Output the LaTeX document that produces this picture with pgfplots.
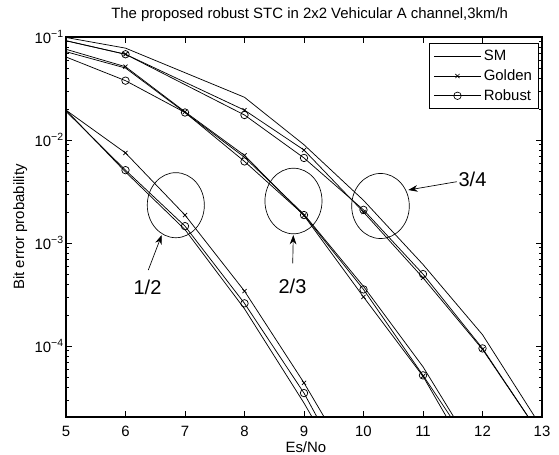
\documentclass[border=0pt]{standalone}
\usepackage{fontspec}
\setmainfont{Liberation Sans}
\usepackage{pgfplots}
\pgfplotsset{compat=1.18}
\usetikzlibrary{arrows.meta}
\newcommand{\fs}{\fontsize{11.2}{13}\selectfont}
\begin{document}
\begin{tikzpicture}
\begin{axis}[
  name=ax,
  width=357pt, height=285pt, scale only axis,
  xmin=5, xmax=13, ymin=2.05e-5, ymax=0.1,
  ymode=log,
  xtick={5,6,7,8,9,10,11,12,13},
  ytick={1e-4,1e-3,1e-2,1e-1},
  yticklabels={10\textsuperscript{−4},10\textsuperscript{−3},10\textsuperscript{−2},10\textsuperscript{−1}},
  minor ytick={3e-5,4e-5,5e-5,6e-5,7e-5,8e-5,9e-5,2e-4,3e-4,4e-4,5e-4,6e-4,7e-4,8e-4,9e-4,2e-3,3e-3,4e-3,5e-3,6e-3,7e-3,8e-3,9e-3,2e-2,3e-2,4e-2,5e-2,6e-2,7e-2,8e-2,9e-2},
  axis line style={line width=1pt},
  tick align=inside,
  major tick length=4.5pt, minor tick length=2.25pt,
  tick style={black, line width=0.5pt},
  /pgf/number format/assume math mode=true,
  ticklabel style={font=\fs},
  xticklabel style={anchor=base, yshift=-14.8pt},
  yticklabel style={inner sep=1.5pt},
  title={The proposed robust STC in 2x2 Vehicular A channel,3km/h},
  title style={at={(axis description cs:0.512,1.0289)}, anchor=base, font=\fs},
  xlabel={Es/No},
  xlabel style={at={(axis description cs:0.504,-0.0921)}, anchor=base, font=\fs},
  ylabel={Bit error probability},
  ylabel style={at={(axis description cs:-0.0882,0.5)}, anchor=base, font=\fs},
  legend style={at={(0.994,0.984)}, anchor=north east, draw=black, line width=0.75pt,
    font=\fs, cells={anchor=west}, inner xsep=3pt, inner ysep=3pt, row sep=1.2pt},
  legend image code/.code={\draw[#1, line width=0.5pt, mark repeat=2, mark phase=2] plot coordinates {(0pt,0pt) (17.5pt,0pt) (35pt,0pt)};},
  every axis plot/.append style={black, line width=0.55pt},
]
% rate 1/2
\addplot[no marks] coordinates {(5,0.0195)(6,4.9e-3)(7,1.35e-3)(8,2.3e-4)(9,2.8e-5)(10,2.8e-6)};
\addlegendentry{SM}
\addplot[mark=x, mark size=2.2pt, mark phase=2] coordinates {(5,0.0195)(6,7.5e-3)(7,1.87e-3)(8,3.42e-4)(9,4.4e-5)(10,4.6e-6)};
\addlegendentry{Golden}
\addplot[mark=o, mark size=2.8pt, mark phase=2] coordinates {(5,0.019)(6,5.1e-3)(7,1.46e-3)(8,2.6e-4)(9,3.5e-5)(10,3.0e-6)};
\addlegendentry{Robust}
% rate 2/3
\addplot[no marks, forget plot] coordinates {(5,0.072)(6,0.050)(7,0.0185)(8,6.8e-3)(9,1.9e-3)(10,3.8e-4)(11,6.3e-5)(12,7.2e-6)};
\addplot[mark=x, mark size=2.2pt, mark phase=2, forget plot] coordinates {(5,0.076)(6,0.0515)(7,0.0188)(8,7.1e-3)(9,1.85e-3)(10,3.0e-4)(11,5.1e-5)(12,5.1e-6)};
\addplot[mark=o, mark size=2.8pt, mark phase=2, forget plot] coordinates {(5,0.064)(6,0.0377)(7,0.0185)(8,6.2e-3)(9,1.87e-3)(10,3.55e-4)(11,5.2e-5)(12,7.1e-6)};
% rate 3/4
\addplot[no marks, forget plot] coordinates {(5,0.099)(6,0.078)(8,0.026)(9,9.0e-3)(10,2.6e-3)(11,6.2e-4)(12,1.29e-4)(13,1.6e-5)};
\addplot[mark=x, mark size=2.2pt, mark phase=2, forget plot] coordinates {(5,0.092)(6,0.068)(8,0.0195)(9,8.0e-3)(10,2.0e-3)(11,4.6e-4)(12,9.3e-5)(13,1.3e-5)};
\addplot[mark=o, mark size=2.8pt, mark phase=2, forget plot] coordinates {(5,0.092)(6,0.068)(8,0.0175)(9,6.7e-3)(10,2.1e-3)(11,5.0e-4)(12,9.5e-5)(13,1.3e-5)};
% annotations
\draw[line width=0.5pt] (rel axis cs:0.2307,0.5574) ellipse [x radius=21.4pt, y radius=24.4pt];
\draw[line width=0.5pt] (rel axis cs:0.4779,0.5684) ellipse [x radius=21.4pt, y radius=24.6pt];
\draw[line width=0.5pt] (rel axis cs:0.6607,0.5553) ellipse [x radius=21.6pt, y radius=24.4pt];
\draw[line width=0.5pt, -{Stealth[length=7pt,width=5pt]}] (rel axis cs:0.1729,0.3868) -- (rel axis cs:0.2011,0.4789);
\draw[line width=0.5pt, -{Stealth[length=7pt,width=5pt]}] (rel axis cs:0.4763,0.4045) -- (rel axis cs:0.4775,0.4789);
\draw[line width=0.5pt, -{Stealth[length=7pt,width=5pt]}] (rel axis cs:0.8208,0.6192) -- (rel axis cs:0.7191,0.5974);
\node[anchor=base, font=\fontsize{15}{18}\selectfont] at (rel axis cs:0.1712,0.3237) {1/2};
\node[anchor=base, font=\fontsize{15}{18}\selectfont] at (rel axis cs:0.4758,0.3263) {2/3};
\node[anchor=base, font=\fontsize{15}{18}\selectfont] at (rel axis cs:0.854,0.6053) {3/4};
\end{axis}
\pgfresetboundingbox
\path[use as bounding box] ([xshift=-49.5pt,yshift=-27.75pt]ax.south west) rectangle ++(419.25pt,340.5pt);
\end{tikzpicture}
\end{document}
